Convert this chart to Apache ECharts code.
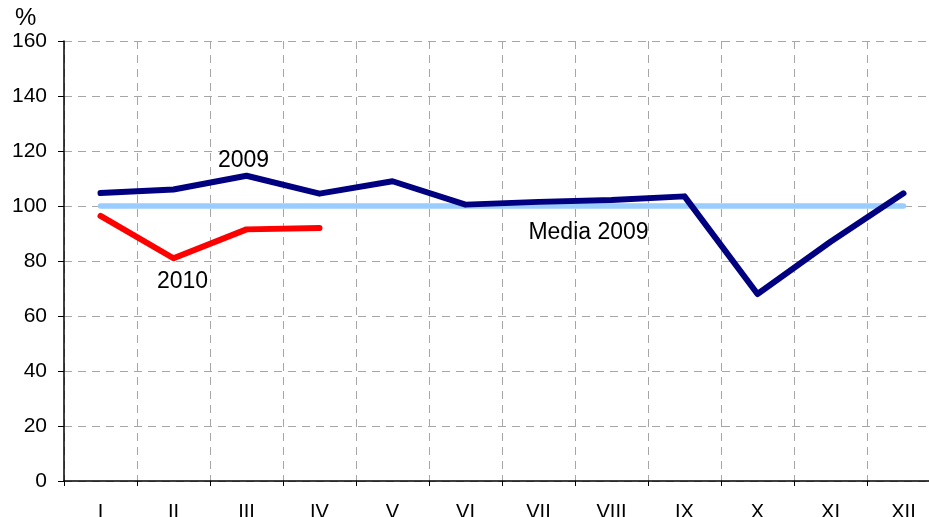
<!DOCTYPE html>
<html><head><meta charset="utf-8">
<script src="https://cdn.jsdelivr.net/npm/echarts@6/dist/echarts.min.js"></script>
<style>html,body{margin:0;padding:0;background:#fff;overflow:hidden}#c{width:940px;height:517px}</style>
</head><body><div id="c"></div>
<script>
const months = ['I','II','III','IV','V','VI','VII','VIII','IX','X','XI','XII'];
const y2009 = [104.7, 106, 111, 104.5, 109, 100.5, 101.5, 102.2, 103.5, 68, 87, 104.6];
const y2010 = [96.4, 81, 91.5, 92];
const media2009 = [100,100,100,100,100,100,100,100,100,100,100,100];
const yTicks = [0,20,40,60,80,100,120,140,160];

const font = 'Liberation Sans, Arial, sans-serif';
const lbl = {color:'#000', fontSize:23, fontFamily:font};
function note(text, cat, val, pos, offset) {
  return {coord:[cat, val], symbol:'circle', symbolSize:0,
    label:Object.assign({show:true, formatter:text, position:pos, offset:offset}, lbl)};
}
const chart = echarts.init(document.getElementById('c'));
chart.setOption({
  animation: false,
  backgroundColor: '#fff',
  grid: {left: 64, top: 41, bottom: 36, right: 0, containLabel: false, outerBoundsMode: 'none'},
  graphic: [{type:'text', left: 15, top: 6, style:{text:'%', font:'24px ' + font, fill:'#000'}}],
  xAxis: {
    type: 'category', data: months, boundaryGap: true,
    axisLine: {lineStyle:{color:'#000', width:1.5}},
    axisTick: {show:true, length:5, lineStyle:{color:'#000'}},
    axisLabel: {color:'#000', fontSize:20, fontFamily:font, margin:21},
    splitLine: {show:true, lineStyle:{color:'#a6a6a6', type:[8,6], width:1}}
  },
  yAxis: {
    type: 'value', min: 0, max: 160, interval: 20,
    axisLine: {show:true, lineStyle:{color:'#000', width:1.5}},
    axisTick: {show:true, length:6, lineStyle:{color:'#000'}},
    axisLabel: {color:'#000', fontSize:21, fontFamily:font, margin:17,
      formatter: v => yTicks.includes(v) ? String(v) : ''},
    splitLine: {show:true, lineStyle:{color:'#a6a6a6', type:[8,6], width:1}}
  },
  series: [
    {name:'Media 2009', type:'line', data: media2009,
      symbol:'none', lineStyle:{color:'#99ccff', width:5.5, cap:'round'}, z:1,
      markPoint:{silent:true, data:[note('Media 2009', months[7], media2009[7], 'bottom', [-23,10])]}},
    {name:'2009', type:'line', data: y2009,
      symbol:'none', lineStyle:{color:'#000080', width:6, cap:'round', join:'round'}, z:3,
      markPoint:{silent:true, data:[note('2009', months[2], y2009[2], 'top', [-3,1])]}},
    {name:'2010', type:'line', data: y2010,
      symbol:'none', lineStyle:{color:'#ff0000', width:6, cap:'round', join:'round'}, z:2,
      markPoint:{silent:true, data:[note('2010', months[1], y2010[1], 'bottom', [9,7])]}}
  ]
});
</script></body></html>
